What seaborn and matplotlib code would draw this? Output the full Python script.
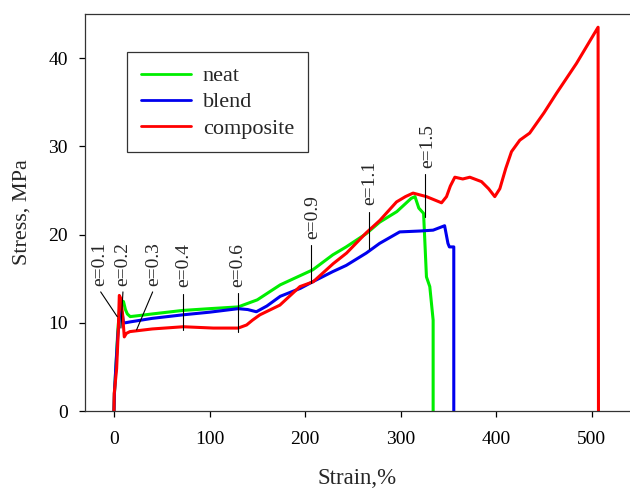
import matplotlib
matplotlib.use("Agg")
import matplotlib.pyplot as plt
import seaborn as sns
import pandas as pd

# ---- data ----
neat_strain = [0, 0.5, 2, 4, 6, 8, 10, 12, 14, 17, 25, 40, 72, 100, 130, 150, 174,
               208, 229, 243, 264, 278, 296, 311, 315, 319, 324, 327, 330.5, 334, 334]
neat_stress = [0, 2, 5, 9, 11.8, 12.5, 12.4, 11.5, 11.0, 10.7, 10.8, 11.0, 11.4, 11.6,
               11.8, 12.6, 14.3, 16.0, 17.7, 18.6, 20.1, 21.4, 22.6, 24.1, 24.3, 23.0,
               22.4, 15.2, 14.1, 10.3, 0]

blend_strain = [0, 0.5, 2, 4, 6, 7.3, 9, 10, 12, 17, 40, 72, 100, 130, 140, 149, 160,
                174, 195, 208, 229, 243, 264, 278, 299, 320, 334, 346, 349.5, 351,
                355.6, 355.6]
blend_stress = [0, 2, 5, 8.5, 11, 11.6, 10.8, 10.0, 10.0, 10.1, 10.5, 10.9, 11.2, 11.6,
                11.5, 11.25, 11.9, 13.0, 13.9, 14.65, 15.8, 16.5, 17.9, 19.0, 20.3,
                20.4, 20.5, 21.0, 19.0, 18.6, 18.6, 0]

composite_strain = [0, 0.3, 2.8, 4.5, 5.6, 7, 9, 10.8, 13, 16.7, 40, 72.5, 104, 130,
                    138.8, 145, 152.7, 173.6, 194.6, 208.5, 229.4, 243.4, 264, 278.2,
                    295.7, 305, 313, 327, 342.8, 348, 352, 356.7, 365, 372.4, 384.6,
                    392, 398.5, 403.8, 410, 416, 424.7, 435, 450, 463, 484, 506.6, 507]
composite_stress = [0, 2, 4.8, 9, 13.1, 12.8, 11, 8.4, 8.8, 9.0, 9.3, 9.55, 9.4, 9.4,
                    9.75, 10.3, 10.9, 12.0, 14.1, 14.65, 16.7, 17.9, 20.2, 21.6, 23.7,
                    24.3, 24.7, 24.3, 23.6, 24.3, 25.5, 26.5, 26.3, 26.5, 26.0, 25.2,
                    24.3, 25.2, 27.5, 29.4, 30.7, 31.5, 33.8, 36.0, 39.4, 43.5, 0]

series_names = ["neat", "blend", "composite"]
series_colors = ["#00ee00", "#0000ee", "#ff0000"]

x_ticks = [0, 100, 200, 300, 400, 500]
y_ticks = [0, 10, 20, 30, 40]

# annotations: label, text x, line top (x, y), line bottom (x, y)
ann_labels = ["e=0.1", "e=0.2", "e=0.3", "e=0.4", "e=0.6", "e=0.9", "e=1.1", "e=1.5"]
ann_text_x = [-14.6, 9.7, 41.2, 73.2, 130, 208.5, 267.8, 328.8]
ann_top = [(-13.9, 13.5), (9.4, 13.5), (40.5, 13.5), (72.5, 13.3), (130, 13.4),
           (206, 18.8), (266.4, 22.6), (326, 26.9)]
ann_bottom = [(3.4, 10.7), (7.3, 9.4), (23.7, 9.2), (72.5, 9.2), (130, 9.0),
              (206, 14.5), (266.4, 18.4), (326, 22.0)]

# ---- build long table ----
frames = []
for name, xs, ys in [("neat", neat_strain, neat_stress),
                     ("blend", blend_strain, blend_stress),
                     ("composite", composite_strain, composite_stress)]:
    frames.append(pd.DataFrame({"strain": xs, "stress": ys, "sample": name}))
df = pd.concat(frames, ignore_index=True)

sns.set_style("ticks")
plt.rcParams["font.family"] = ["Liberation Serif", "DejaVu Serif"]

fig = plt.figure(figsize=(6.3, 4.88), dpi=100)
ax = fig.add_axes([85 / 630, 77 / 488, 545 / 630, 397 / 488])

sns.lineplot(data=df, x="strain", y="stress", hue="sample", hue_order=series_names,
             palette=series_colors, sort=False, estimator=None,
             linewidth=2.2, ax=ax, legend=True)

ax.set_xlim(-30.3, 540)
ax.set_ylim(0, 45)
ax.set_xticks(x_ticks)
ax.set_yticks(y_ticks)
ax.tick_params(axis="both", direction="out", length=4.5, width=0.9, colors="black",
               labelsize=14)
ax.tick_params(axis="x", pad=10)
ax.tick_params(axis="y", pad=8)
for s in ["left", "bottom", "top"]:
    ax.spines[s].set_linewidth(0.9)
    ax.spines[s].set_color("#333333")
ax.spines["right"].set_visible(False)

ax.set_xlabel("Strain,%", fontsize=16.5, labelpad=14)
ax.set_ylabel("Stress, MPa", fontsize=16, labelpad=12)

for lab, tx, (x0, y0), (x1, y1) in zip(ann_labels, ann_text_x, ann_top, ann_bottom):
    ax.plot([x0, x1], [y0, y1], color="black", lw=0.8)
    ax.text(tx, y0 + 0.7, lab, rotation=90, ha="center", va="bottom", fontsize=14)

handles, labels = ax.get_legend_handles_labels()
leg = ax.legend(handles, labels, loc="upper left",
                bbox_to_anchor=(127 / 630, 1 - 52 / 488), bbox_transform=fig.transFigure,
                frameon=True, fancybox=False, shadow=False, fontsize=16,
                handlelength=2.25, handletextpad=0.54, labelspacing=0.25,
                borderpad=0.62, borderaxespad=0)
leg.get_frame().set_edgecolor("black")
leg.get_frame().set_linewidth(0.9)
for h in leg.get_lines():
    h.set_linewidth(2.0)

fig.savefig("out.png", dpi=100)
